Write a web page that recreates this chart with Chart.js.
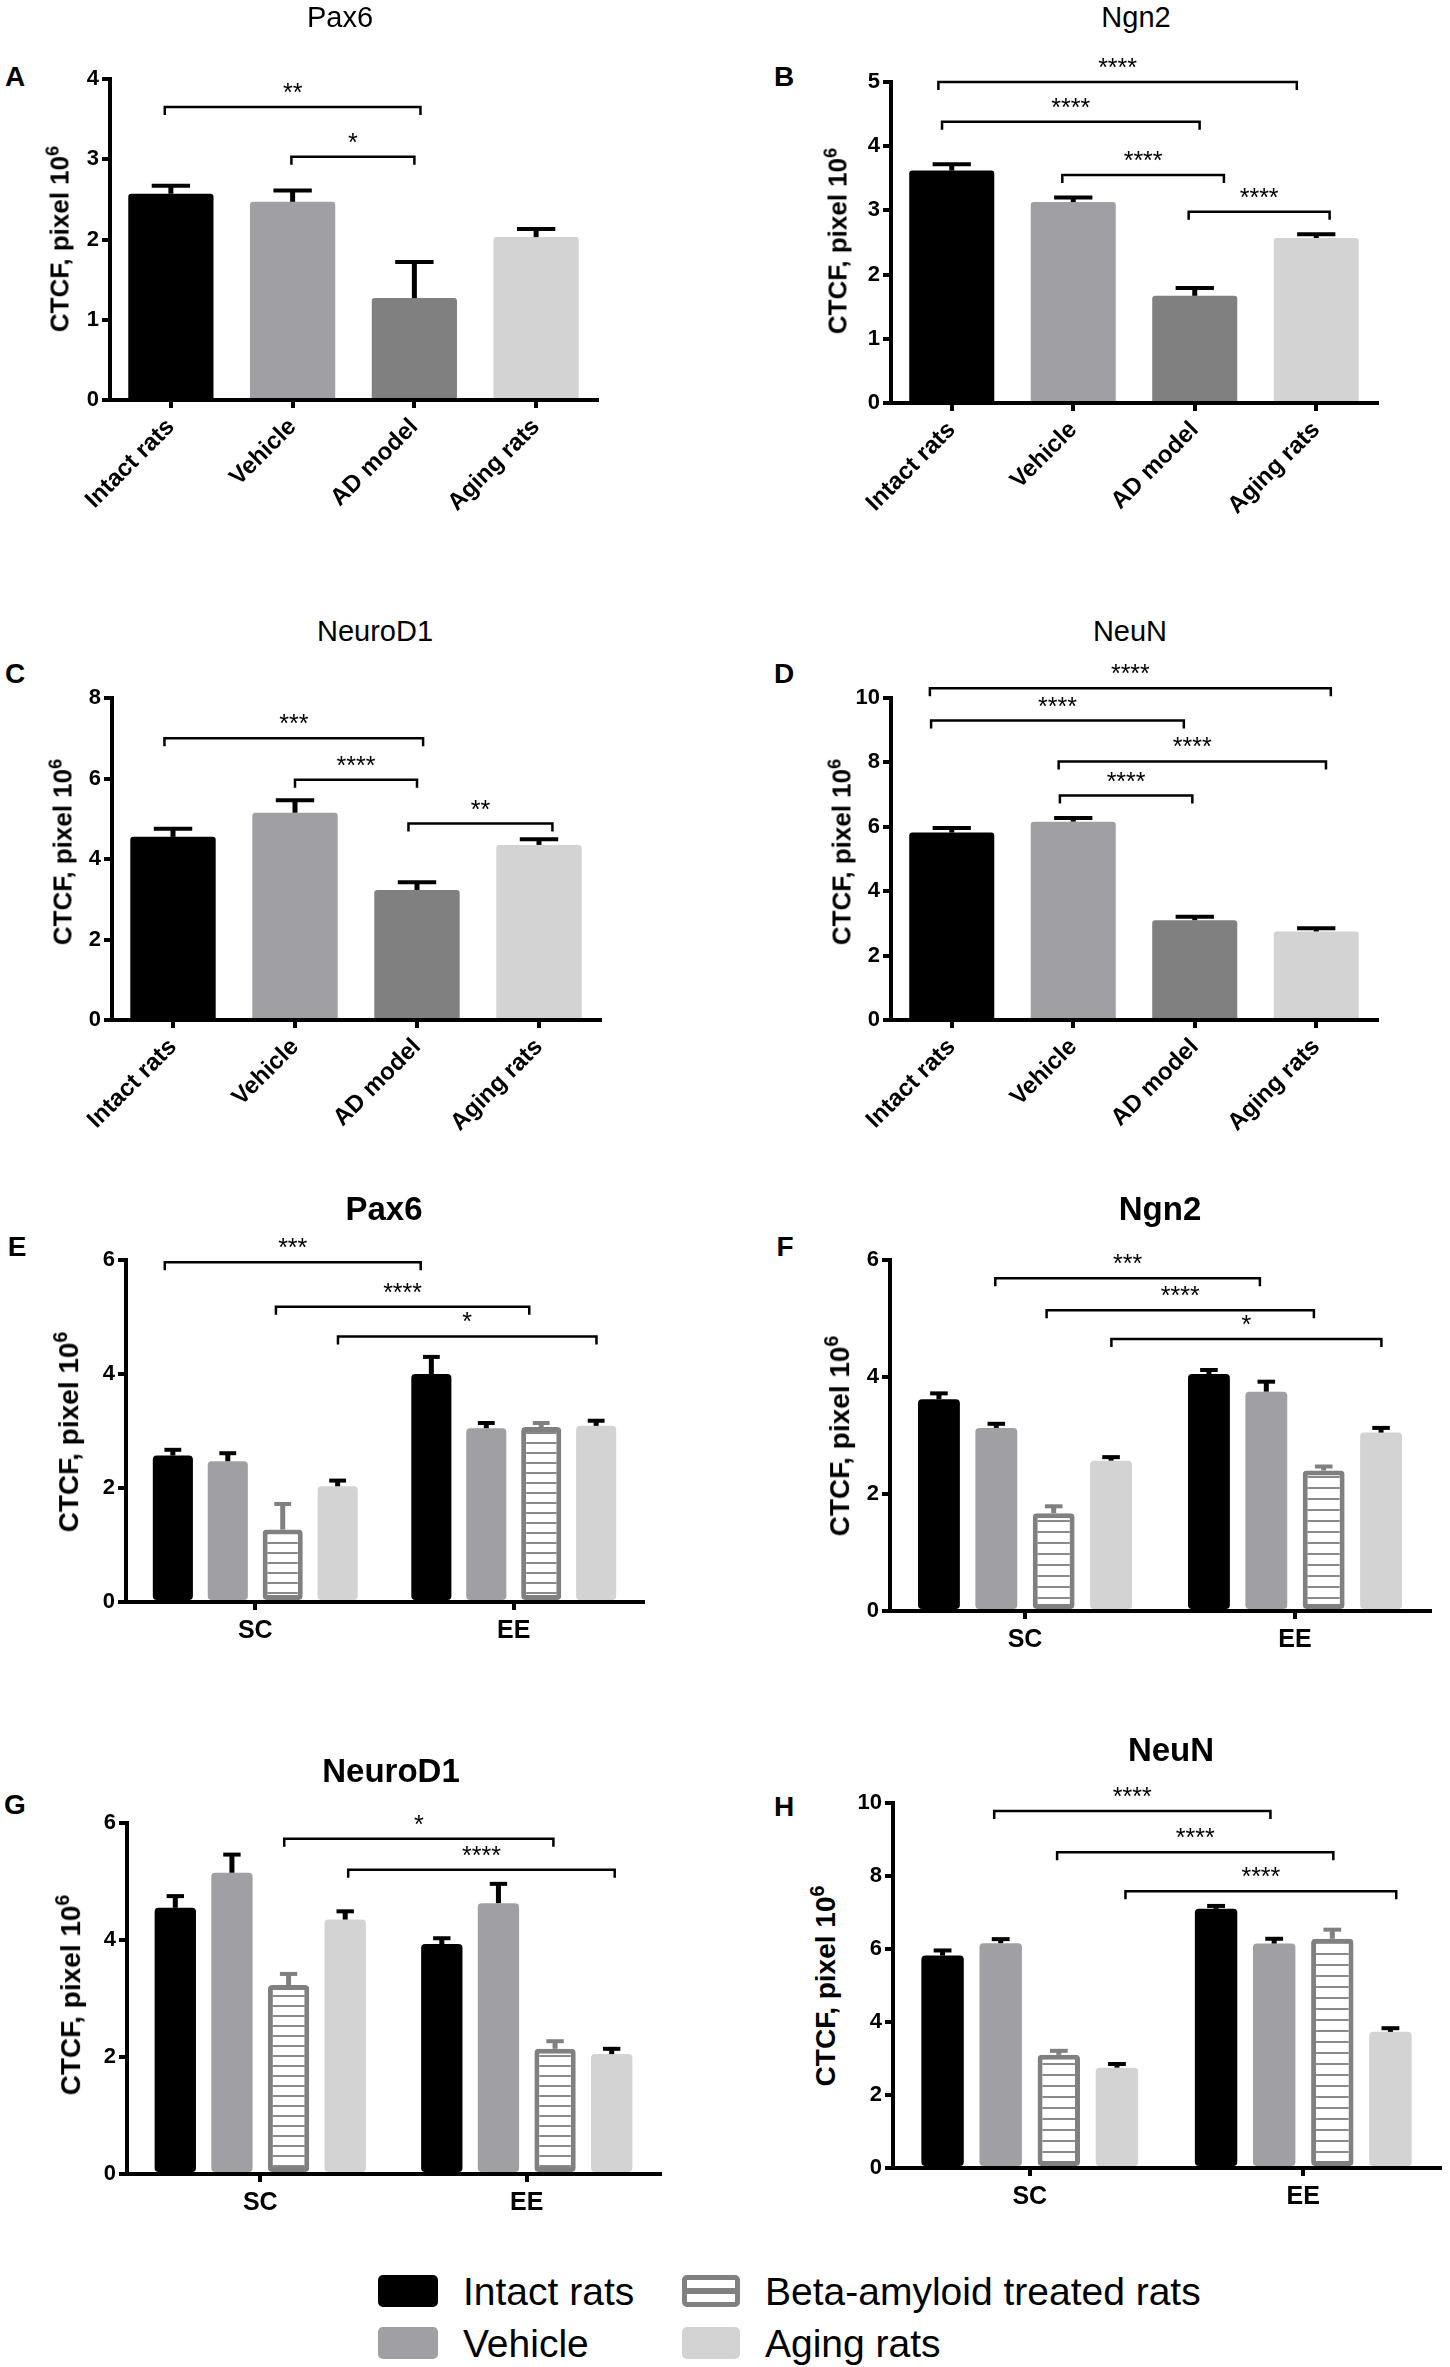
<!DOCTYPE html>
<html>
<head>
<meta charset="utf-8">
<script src="https://cdn.jsdelivr.net/npm/chart.js@4.4.1/dist/chart.umd.min.js"></script>
<style>
  body { margin: 0; background: #fff; }
  #page { position: relative; width: 1450px; height: 2367px; overflow: hidden;
          font-family: 'Liberation Sans', Arial, sans-serif; color: #000; }
  #page canvas { position: absolute; }
  .t { position: absolute; line-height: 1; white-space: nowrap; }
  .box { position: absolute; height: 32px; border-radius: 5px; box-sizing: border-box; }
</style>
</head>
<body>
<div id="page"></div>
<script>
// categorias e legendas
const groupLabels = ['Intact rats', 'Vehicle', 'AD model', 'Aging rats'];
const envLabels = ['SC', 'EE'];
const legendLabels = ['Intact rats', 'Vehicle', 'Beta-amyloid treated rats', 'Aging rats'];

// ticks do eixo Y
const ticksPax6 = [0, 1, 2, 3, 4];
const ticksNgn2 = [0, 1, 2, 3, 4, 5];
const ticksNeuroD1 = [0, 2, 4, 6, 8];
const ticksNeuN = [0, 2, 4, 6, 8, 10];
const ticksEnv6 = [0, 2, 4, 6];
const ticksEnv10 = [0, 2, 4, 6, 8, 10];

// médias e erro padrão (CTCF, pixel 10^6)
const pax6SC = [2.57, 2.47, 1.27, 2.03];
const pax6SCsem = [0.10, 0.14, 0.45, 0.10];
const pax6EE = [4.00, 3.05, 3.07, 3.09];
const pax6EEsem = [0.30, 0.09, 0.07, 0.09];

const ngn2SC = [3.62, 3.13, 1.67, 2.57];
const ngn2SCsem = [0.10, 0.07, 0.12, 0.06];
const ngn2EE = [4.05, 3.75, 2.40, 3.05];
const ngn2EEsem = [0.07, 0.17, 0.07, 0.08];

const neurod1SC = [4.55, 5.15, 3.23, 4.35];
const neurod1SCsem = [0.20, 0.31, 0.19, 0.14];
const neurod1EE = [3.93, 4.63, 2.14, 2.05];
const neurod1EEsem = [0.10, 0.33, 0.13, 0.09];

const neunSC = [5.82, 6.16, 3.10, 2.75];
const neunSCsem = [0.14, 0.11, 0.11, 0.10];
const neunEE = [7.10, 6.15, 6.28, 3.73];
const neunEEsem = [0.08, 0.13, 0.25, 0.10];

// significância: [de, até, altura, rótulo]
const pax6Sig = [[-0.05, 2.05, 3.65, '**'], [0.99, 2.0, 3.03, '*']];
const ngn2Sig = [[-0.11, 2.84, 5.0, '****'], [-0.08, 2.04, 4.38, '****'], [0.91, 2.24, 3.55, '****'], [1.95, 3.11, 2.98, '****']];
const neurod1Sig = [[-0.07, 2.05, 7.0, '***'], [1.0, 2.0, 5.97, '****'], [1.93, 3.11, 4.88, '**']];
const neunSig = [[-0.18, 3.12, 10.3, '****'], [-0.17, 1.91, 9.3, '****'], [0.88, 3.08, 8.03, '****'], [0.89, 1.98, 6.97, '****']];
const pax6EnvSig = [[-0.35, 0.64, 5.96, '***'], [0.08, 1.06, 5.18, '****'], [0.32, 1.32, 4.66, '*']];
const ngn2EnvSig = [[-0.11, 0.87, 5.69, '***'], [0.08, 1.07, 5.14, '****'], [0.32, 1.32, 4.65, '*']];
const neurod1EnvSig = [[0.09, 1.10, 5.73, '*'], [0.33, 1.33, 5.2, '****']];
const neunEnvSig = [[-0.13, 0.88, 9.78, '****'], [0.10, 1.11, 8.65, '****'], [0.35, 1.34, 7.58, '****']];

// estilos
const FONT = "'Liberation Sans', Arial, sans-serif";
const barColors = ['#000000', '#a0a0a4', '#808080', '#d3d3d3'];
const errColors = ['#000000', '#000000', '#808080', '#000000'];

const page = document.getElementById('page');

function addText(html, x, y, css) {
  const d = document.createElement('div');
  d.className = 't';
  d.innerHTML = html;
  d.style.left = x + 'px';
  d.style.top = y + 'px';
  Object.assign(d.style, css);
  page.appendChild(d);
  return d;
}

function hatch(step) {
  const c = document.createElement('canvas');
  c.width = 8; c.height = step;
  const g = c.getContext('2d');
  g.fillStyle = '#fff';
  g.fillRect(0, 0, 8, step);
  g.fillStyle = '#8a8a8a';
  g.fillRect(0, 0, 8, 2);
  return g.createPattern(c, 'repeat');
}

// barras de erro e colchetes de significância
const marks = {
  id: 'marks',
  afterDatasetsDraw(chart, args, opts) {
    const ctx = chart.ctx;
    const xs = chart.scales.x, ys = chart.scales.y;
    ctx.save();
    ctx.lineCap = 'butt';
    chart.data.datasets.forEach((ds, di) => {
      const meta = chart.getDatasetMeta(di);
      meta.data.forEach((bar, i) => {
        const top = ys.getPixelForValue(ds.data[i] + ds.sem[i]);
        const w = bar.width * opts.cap;
        ctx.strokeStyle = ds.errColor;
        ctx.lineWidth = 5;
        ctx.beginPath();
        ctx.moveTo(bar.x, bar.y);
        ctx.lineTo(bar.x, top);
        ctx.stroke();
        ctx.lineWidth = 4;
        ctx.beginPath();
        ctx.moveTo(bar.x - w / 2, top);
        ctx.lineTo(bar.x + w / 2, top);
        ctx.stroke();
      });
    });
    ctx.strokeStyle = '#000';
    ctx.fillStyle = '#000';
    ctx.lineWidth = 2.5;
    ctx.font = '25px ' + FONT;
    ctx.textAlign = 'center';
    ctx.textBaseline = 'alphabetic';
    opts.brackets.forEach(([a, b, v, label]) => {
      const x1 = xs.getPixelForValue(a), x2 = xs.getPixelForValue(b), y = ys.getPixelForValue(v);
      ctx.beginPath();
      ctx.moveTo(x1, y + 8);
      ctx.lineTo(x1, y);
      ctx.lineTo(x2, y);
      ctx.lineTo(x2, y + 8);
      ctx.stroke();
      ctx.fillText(label, (x1 + x2) / 2, y - 6);
    });
    ctx.restore();
  }
};

function drawPanel(p) {
  const grouped = !!p.ee;
  const yW = 50, xH = grouped ? 55 : 130, padTop = 48, padRight = 12;
  const [L, T, R, B] = p.area;
  const cv = document.createElement('canvas');
  cv.width = yW + (R - L) + padRight;
  cv.height = padTop + (B - T) + xH;
  cv.style.left = (L - yW) + 'px';
  cv.style.top = (T - padTop) + 'px';
  page.appendChild(cv);

  let datasets;
  if (grouped) {
    datasets = legendLabels.map((name, i) => ({
      label: name,
      data: [p.sc[i], p.ee[i]],
      sem: [p.scSem[i], p.eeSem[i]],
      backgroundColor: i === 2 ? hatch(p.hatch) : barColors[i],
      borderColor: '#808080',
      borderWidth: i === 2 ? 5 : 0,
      borderSkipped: false,
      borderRadius: 4,
      errColor: errColors[i],
      categoryPercentage: 0.85,
      barPercentage: 0.73
    }));
  } else {
    datasets = [{
      data: p.sc,
      sem: p.scSem,
      backgroundColor: barColors,
      borderWidth: 0,
      borderRadius: 3,
      errColor: '#000',
      categoryPercentage: 1.0,
      barPercentage: 0.70
    }];
  }

  const ticks = p.ticks;
  new Chart(cv.getContext('2d'), {
    type: 'bar',
    data: { labels: grouped ? envLabels : groupLabels, datasets: datasets },
    options: {
      responsive: false,
      animation: false,
      layout: { padding: { top: padTop, right: padRight, left: 0, bottom: 0 } },
      plugins: {
        legend: { display: false },
        tooltip: { enabled: false },
        marks: { brackets: p.sig, cap: grouped ? 0.42 : 0.45 }
      },
      scales: {
        y: {
          min: ticks[0],
          max: ticks[ticks.length - 1],
          ticks: {
            stepSize: ticks[1] - ticks[0],
            color: '#000',
            padding: 3,
            font: { family: FONT, size: 22, weight: 'bold' }
          },
          grid: { drawOnChartArea: false, color: '#000', lineWidth: 4, tickLength: 8 },
          border: { color: '#000', width: 4 },
          afterFit: s => { s.width = yW; }
        },
        x: {
          ticks: grouped
            ? { color: '#000', padding: 6, maxRotation: 0, font: { family: FONT, size: 25, weight: 'bold' } }
            : { color: '#000', padding: 5, minRotation: 45, maxRotation: 45, autoSkip: false,
                font: { family: FONT, size: 24, weight: 'bold' } },
          grid: { drawOnChartArea: false, offset: false, color: '#000', lineWidth: 4, tickLength: 8 },
          border: { color: '#000', width: 4 },
          afterFit: s => { s.height = xH; }
        }
      }
    },
    plugins: [marks]
  });

  // textos do painel
  addText(p.letter, p.letterAt[0], p.letterAt[1],
    { fontSize: '28px', fontWeight: 'bold', transform: 'translate(-50%,-50%)' });
  if (grouped) {
    addText(p.title, p.titleAt[0], p.titleAt[1],
      { fontSize: '33px', fontWeight: 'bold', transform: 'translate(-50%,-50%)' });
  } else {
    addText(p.title, p.titleAt[0], p.titleAt[1],
      { fontSize: '29px', transform: 'translate(-50%,-50%)' });
  }
  addText('CTCF, pixel 10<sup style="font-size:0.7em;vertical-align:0.55em">6</sup>', p.yTitleAt[0], p.yTitleAt[1],
    { fontSize: grouped ? '28px' : '26px', fontWeight: 'bold',
      transform: 'translate(-50%,-50%) rotate(-90deg)' });
}

const panels = [
  { letter: 'A', title: 'Pax6', sc: pax6SC, scSem: pax6SCsem, sig: pax6Sig, ticks: ticksPax6,
    area: [110, 79, 597, 400], letterAt: [15, 77], titleAt: [340, 17], yTitleAt: [58, 239] },
  { letter: 'B', title: 'Ngn2', sc: ngn2SC, scSem: ngn2SCsem, sig: ngn2Sig, ticks: ticksNgn2,
    area: [891, 82, 1377, 403], letterAt: [784, 77], titleAt: [1136, 17], yTitleAt: [836, 241] },
  { letter: 'C', title: 'NeuroD1', sc: neurod1SC, scSem: neurod1SCsem, sig: neurod1Sig, ticks: ticksNeuroD1,
    area: [112, 698, 600, 1020], letterAt: [15, 674], titleAt: [375, 631], yTitleAt: [61, 852] },
  { letter: 'D', title: 'NeuN', sc: neunSC, scSem: neunSCsem, sig: neunSig, ticks: ticksNeuN,
    area: [891, 698, 1377, 1020], letterAt: [784, 674], titleAt: [1130, 631], yTitleAt: [840, 852] },
  { letter: 'E', title: 'Pax6', sc: pax6SC, scSem: pax6SCsem, ee: pax6EE, eeSem: pax6EEsem, sig: pax6EnvSig,
    ticks: ticksEnv6, hatch: 10,
    area: [126, 1260, 643, 1602], letterAt: [17, 1247], titleAt: [384, 1208], yTitleAt: [67, 1432] },
  { letter: 'F', title: 'Ngn2', sc: ngn2SC, scSem: ngn2SCsem, ee: ngn2EE, eeSem: ngn2EEsem, sig: ngn2EnvSig,
    ticks: ticksEnv6, hatch: 11,
    area: [890, 1260, 1430, 1611], letterAt: [785, 1247], titleAt: [1160, 1208], yTitleAt: [838, 1436] },
  { letter: 'G', title: 'NeuroD1', sc: neurod1SC, scSem: neurod1SCsem, ee: neurod1EE, eeSem: neurod1EEsem,
    sig: neurod1EnvSig, ticks: ticksEnv6, hatch: 10,
    area: [127, 1823, 660, 2174], letterAt: [15, 1805], titleAt: [391, 1770], yTitleAt: [69, 1995] },
  { letter: 'H', title: 'NeuN', sc: neunSC, scSem: neunSCsem, ee: neunEE, eeSem: neunEEsem, sig: neunEnvSig,
    ticks: ticksEnv10, hatch: 11,
    area: [893, 1803, 1440, 2168], letterAt: [784, 1807], titleAt: [1171, 1749], yTitleAt: [824, 1986] }
];

panels.forEach(drawPanel);

// legenda comum dos painéis E-H
const legendBox = [[378, 2275, 60], [378, 2327, 60], [682, 2275, 58], [682, 2327, 58]];
legendLabels.forEach((name, i) => {
  const b = document.createElement('div');
  b.className = 'box';
  b.style.left = legendBox[i][0] + 'px';
  b.style.top = legendBox[i][1] + 'px';
  b.style.width = legendBox[i][2] + 'px';
  if (i === 2) {
    b.style.background = '#fff';
    b.style.border = '5px solid #808080';
    const stripe = document.createElement('div');
    stripe.style.cssText = 'position:absolute;left:0;right:0;top:8px;height:6px;background:#808080;';
    b.appendChild(stripe);
  } else {
    b.style.background = barColors[i];
  }
  page.appendChild(b);
  addText(name, legendBox[i][0] + legendBox[i][2] + 25, legendBox[i][1] - 3, { fontSize: '39px' });
});
</script>
</body>
</html>
